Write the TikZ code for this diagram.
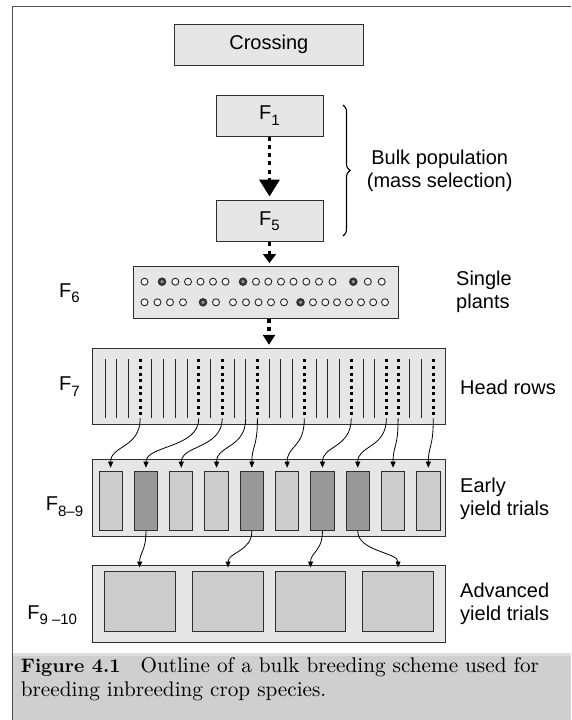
\documentclass[tikz,border=0pt]{standalone}
\usepackage{fontspec}
\newfontfamily\labelfont{Liberation Sans}
\newfontfamily\capfont{lmroman10-regular.otf}[BoldFont=lmroman10-bold.otf]
\usetikzlibrary{arrows.meta,decorations.pathreplacing}

\definecolor{boxfill}{HTML}{E6E6E6}
\definecolor{plotfill}{HTML}{CCCCCC}
\definecolor{selfill}{HTML}{999999}
\definecolor{edge}{HTML}{2E2E2E}
\definecolor{capband}{HTML}{CFCFCF}
\definecolor{capstrip}{HTML}{DEDEDE}
\definecolor{framecol}{HTML}{505050}

% generation label: F with a lowered subscript
\newcommand{\Fsub}[1]{F\raisebox{-5.5pt}{\fontsize{15}{15}\selectfont #1}}

\tikzset{
  stage/.style={draw=edge, fill=boxfill, line width=1pt, inner sep=0pt,
    minimum height=41pt, font=\labelfont\fontsize{20}{23.5}\selectfont},
  field/.style={draw=edge, fill=boxfill, line width=1pt, inner sep=0pt},
  trial/.style={draw=edge, fill=plotfill, line width=1pt, inner sep=0pt,
    minimum width=23.3pt, minimum height=59pt},
  advplot/.style={draw=edge, fill=plotfill, line width=1pt, inner sep=0pt,
    minimum width=70.7pt, minimum height=60pt},
  note/.style={inner sep=0pt, font=\labelfont\fontsize{20}{23.5}\selectfont},
  genlabel/.style={inner sep=0pt, anchor=base east, font=\labelfont\fontsize{20}{23.5}\selectfont},
  caption/.style={anchor=base west, inner sep=0pt, font=\capfont\fontsize{21.2}{24}\selectfont},
  bigflow/.style={draw=black, line width=3.6pt, dash pattern=on 4pt off 4.3pt},
  rowline/.style={draw=black!85, line width=0.9pt},
  selrow/.style={draw=black, line width=2.8pt, dash pattern=on 3pt off 3.6pt},
  pick/.style={draw=black, line width=0.8pt, -{Triangle[width=5pt,length=6pt]}},
  plant/.style={draw=black!85, line width=0.9pt, fill=boxfill!50!white},
  chosen/.style={draw=black!80, line width=2.4pt, fill=black!40},
}

\begin{document}
\begin{tikzpicture}[x=1pt,y=-1pt]
\useasboundingbox (0,0) rectangle (571,720);
\fill[white] (0,0) rectangle (571,720);

% caption band and frame
\fill[capband] (12.3,652.7) rectangle (571,720);
\fill[capstrip] (12.3,652.7) rectangle (571,656);
\draw[framecol, line width=1pt] (12.3,720) -- (12.3,6.7) -- (571,6.7);

% stages of the scheme
\node[stage, minimum width=189pt] (cross) at (268.8,44.5) {Crossing};
\node[stage, minimum width=107pt] (f1) at (269.5,115.5) {\Fsub{1}};
\node[stage, minimum width=107pt] (f5) at (269.5,221.2) {\Fsub{5}};
\node[field, minimum width=265pt, minimum height=52pt] (f6) at (265.5,292) {};
\node[field, minimum width=353.4pt, minimum height=76pt] (f7) at (269,386.3) {};
\node[field, minimum width=353.4pt, minimum height=77.4pt] (f89) at (269,498) {};
\node[field, minimum width=353.4pt, minimum height=77.3pt] (f910) at (269,603.7) {};

% single plants in F6
\foreach \x in {144.5,175.3,188,200.5,213,225.5,256,268.3,281,293.5,306.3,319,332.5,367.8,381.7}
  \draw[plant] (\x,281.7) circle (3.5pt);
\foreach \x in {162,243,353.3}
  \draw[chosen] (\x,281.7) circle (3pt);
\foreach \x in {144.5,157.5,170,183,216,233,246,258.5,271,284,313,325.3,337,349,361,373.2,385}
  \draw[plant] (\x,302.3) circle (3.5pt);
\foreach \x in {203,300.5}
  \draw[chosen] (\x,302.3) circle (3pt);

% head rows in F7
\foreach \k in {0,...,28}
  \coordinate (h\k) at ({105+11.725*\k},418.3);
\foreach \k in {0,1,2,4,5,6,7,9,11,12,14,15,16,18,19,20,22,23,26,27}
  \draw[rowline] ({105+11.725*\k},359.3) -- (h\k);
\foreach \k in {3,8,10,13,17,21,24,25,28}
  \draw[selrow] ({105+11.725*\k},359.3) -- (h\k);

% early yield trial plots
\foreach \i in {1,3,4,6,9,10}
  \node[trial] (e\i) at ({110.65+35.3*(\i-1)},501.2) {};
\foreach \i in {2,5,7,8}
  \node[trial, fill=selfill] (e\i) at ({110.65+35.3*(\i-1)},501.2) {};

% advanced yield trial plots
\node[advplot] (a1) at (139.65,601) {};
\node[advplot] (a2) at (228.05,601) {};
\node[advplot] (a3) at (310.55,601) {};
\node[advplot] (a4) at (398.05,601) {};

% main flow
\draw[bigflow, -{Triangle[width=20pt,length=17pt]}, shorten >=3.7pt] (f1.south) -- (f5.north);
\draw[bigflow, -{Triangle[width=13pt,length=9pt]}, shorten >=2.5pt] (f5.south) -- (f5.south |- f6.north);
\draw[bigflow, -{Triangle[width=12pt,length=10pt]}, shorten >=3pt] (f7.north |- f6.south) -- (f7.north);

% selected head rows to early trials
\foreach \k/\i in {3/1,8/2,10/3,12/4,13/5,17/6,21/7,24/8,25/9,28/10}
  \draw[pick, shorten >=3.5pt] (h\k) .. controls +(0,30) and +(0,-26) .. (e\i.north);

% selected lines to advanced trials
\foreach \i/\j in {2/1,5/2,7/3,8/4}
  \draw[pick, shorten >=3pt] (e\i.south) .. controls +(0,20) and +(0,-18) .. (a\j.north);

% bulk bracket
\coordinate (bt) at (343,105);
\coordinate (bb) at (343,236);
\draw[black, line width=1.1pt, decorate, decoration={brace, amplitude=7pt}] (bt) -- (bb);

% side notes
\node[note, align=center] (bulk) at (439.7,171) {Bulk population\\(mass selection)};
\node[note, align=left, anchor=west] (single) at (456,292) {Single\\plants};
\node[note, anchor=west] (heads) at (460,387.7) {Head rows};
\node[note, align=left, anchor=west] (early) at (460,498.7) {Early\\yield trials};
\node[note, align=left, anchor=west] (adv) at (460,603.9) {Advanced\\yield trials};

% generation labels
\node[genlabel] (g6) at (80,297) {\Fsub{6}};
\node[genlabel] (g7) at (80,390.5) {\Fsub{7}};
\node[genlabel] (g89) at (83.3,510.5) {\Fsub{8–9}};
\node[genlabel] (g910) at (77.3,619) {\Fsub{9 –10}};

% caption
\node[caption] (cap1) at (20.7,672.3)
  {{\fontsize{19.5}{24}\selectfont\bfseries Figure 4.1}\hspace{20pt}Outline of a bulk breeding scheme used for};
\node[caption] (cap2) at (20.7,696.5)
  {breeding inbreeding crop species.};
\end{tikzpicture}
\end{document}
